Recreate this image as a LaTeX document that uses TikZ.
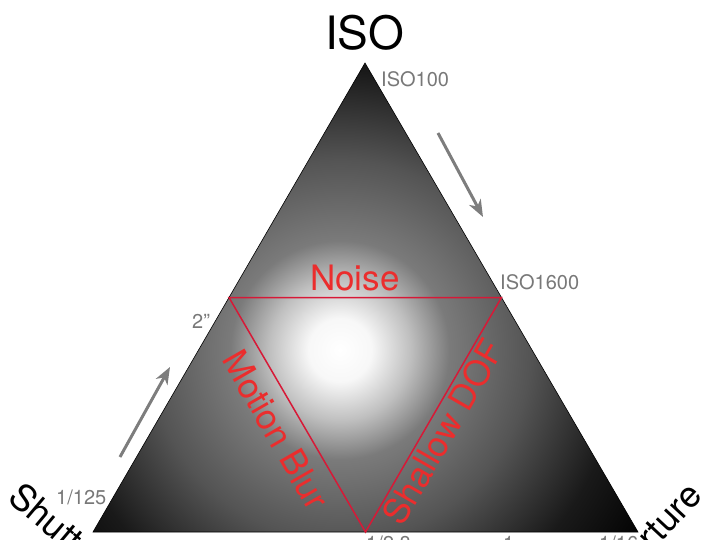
\documentclass[tikz,border=0pt]{standalone}
\usepackage{fontspec}
\setmainfont{TeX Gyre Heros}
\usetikzlibrary{arrows.meta}
\definecolor{redline}{RGB}{215,25,55}
\definecolor{redtext}{RGB}{235,45,45}
\definecolor{graytext}{RGB}{120,120,120}
\definecolor{arrowgray}{RGB}{125,125,125}
\pgfdeclareradialshading{glow}{\pgfpoint{0bp}{0bp}}{color(0bp)=(white); color(2.2bp)=(white!97!black); color(4.9bp)=(black!25); color(7.6bp)=(black!52); color(13.2bp)=(black!67); color(19.4bp)=(black!90); color(25bp)=(black); color(50bp)=(black)}
\tikzset{
  graylbl/.style={text=graytext, font=\fontsize{20}{22}\selectfont, inner sep=0pt, anchor=base west},
  redlbl/.style={text=redtext, font=\fontsize{35}{38}\selectfont, inner sep=0pt},
  biglbl/.style={text=black, font=\fontsize{36}{40}\selectfont, inner sep=0pt},
  arrowc/.style={draw=arrowgray, line width=3pt, -{Stealth[length=17pt, width=13pt, inset=5pt]}},
  redtri/.style={draw=redline, line width=1.5pt, line join=miter}
}
\begin{document}
\begin{tikzpicture}[x=1pt,y=-1pt]
\useasboundingbox (0,0) rectangle (720,540);
\coordinate (A) at (365,63);
\coordinate (L) at (93,532);
\coordinate (R) at (638,532);
\coordinate (ML) at (229,297.5);
\coordinate (MR) at (501.5,297.5);
\coordinate (MB) at (365.5,532);

% titles (drawn first, the triangle lies on top)
\node[text=black, font=\fontsize{46}{50}\selectfont, inner sep=0pt, anchor=base west] (iso) at (325,50) {ISO};
\node[biglbl, anchor=base west, rotate=-40] (shutter) at (6,500) {Shutter};
\node[biglbl, anchor=base east, rotate=47] (aperture) at (704,497) {Aperture};

\begin{scope}
  \clip (A) -- (L) -- (R) -- cycle;
  \shade[shading=glow] (340,350) circle (360pt);
\end{scope}
\draw[line width=0.6pt, black] (A) -- (L) -- (R) -- cycle;
\draw[redtri] (ML) -- (MR) -- (MB) -- cycle;

% arrows
\coordinate (a1s) at (438,133);
\coordinate (a1e) at (483,217);
\coordinate (a2s) at (120,457);
\coordinate (a2e) at (170,367);
\draw[arrowc] (a1s) -- (a1e);
\draw[arrowc] (a2s) -- (a2e);

% gray labels
\node[graylbl] (iso100) at (381,87) {ISO100};
\node[graylbl] (iso1600) at (500,289) {ISO1600};
\node[graylbl] (two) at (192,328) {2”};
\node[graylbl] (s125) at (56,504) {1/125};
\node[graylbl] (f28) at (366,550) {1/2.8};
\node[graylbl] (fone) at (503,550) {1};
\node[graylbl] (f16) at (599,550) {1/16};

% red labels
\node[redlbl, anchor=base west] (noise) at (310,290) {Noise};
\node[redlbl, rotate=-60] (motion) at (276,430) {Motion Blur};
\node[redlbl, rotate=60] (dof) at (443,432) {Shallow DOF};
\end{tikzpicture}
\end{document}
